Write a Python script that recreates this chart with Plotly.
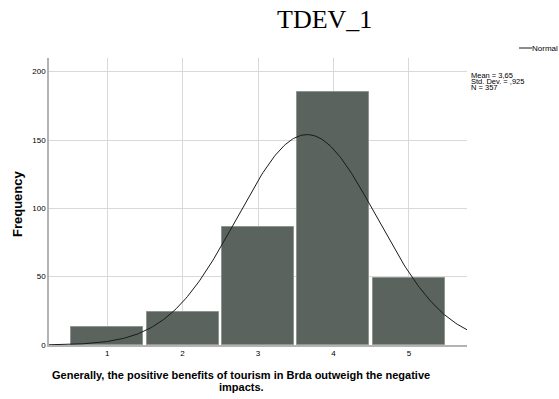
import numpy as np
import plotly.graph_objects as go

# Response categories and their frequencies
categories = [1, 2, 3, 4, 5]
frequencies = [13, 24, 86, 185, 49]
tick_labels = ["1", "2", "3", "4", "5"]

# Summary statistics shown beside the chart
mean_value = 3.65
std_dev = 0.925
n_total = 357
stats_lines = ["Mean = 3,65", "Std. Dev. = ,925", "N = 357"]

W, H = 559, 399
L, R, T, B = 49, 92, 58, 54
plot_w = W - L - R
plot_h = H - T - B

x_range = [0.23, 5.77]
y_range = [0, 210]

# Fitted normal curve scaled to counts (bin width 1)
xs = np.linspace(x_range[0], x_range[1], 300)
ys = n_total / (std_dev * np.sqrt(2 * np.pi)) * np.exp(-0.5 * ((xs - mean_value) / std_dev) ** 2)

fig = go.Figure()
fig.add_trace(go.Bar(
    x=categories, y=frequencies, width=0.955,
    marker=dict(color="#5a635d", line=dict(color="#8e9591", width=1)),
    showlegend=False, hoverinfo="x+y",
))
fig.add_trace(go.Scatter(
    x=xs, y=ys, mode="lines",
    line=dict(color="#1a1a1a", width=1),
    showlegend=False, hoverinfo="skip",
))

def px_x(px):
    return (px - L) / plot_w

def px_y(py):
    return 1 - (py - T) / plot_h

annotations = [
    dict(text="TDEV_1", x=px_x(324), y=px_y(20), xref="paper", yref="paper",
         xanchor="center", yanchor="middle", showarrow=False,
         font=dict(family="Liberation Serif", size=26, color="#000")),
    dict(text="<b>Frequency</b>", x=px_x(17), y=px_y(204), xref="paper", yref="paper",
         xanchor="center", yanchor="middle", textangle=-90, showarrow=False,
         font=dict(family="Liberation Sans", size=13, color="#000")),
    dict(text="<b>Generally, the positive benefits of tourism in Brda outweigh the negative</b>",
         x=px_x(241), y=px_y(375), xref="paper", yref="paper",
         xanchor="center", yanchor="middle", showarrow=False,
         font=dict(family="Liberation Sans", size=11, color="#000")),
    dict(text="<b>impacts.</b>",
         x=px_x(241), y=px_y(387), xref="paper", yref="paper",
         xanchor="center", yanchor="middle", showarrow=False,
         font=dict(family="Liberation Sans", size=11, color="#000")),
    dict(text="Normal", x=px_x(531), y=px_y(48), xref="paper", yref="paper",
         xanchor="left", yanchor="middle", showarrow=False, borderpad=0,
         font=dict(family="Liberation Sans", size=8, color="#000")),
]
for i, line in enumerate(stats_lines):
    annotations.append(dict(
        text=line, x=px_x(470), y=px_y(75.5 + i * 6), xref="paper", yref="paper",
        xanchor="left", yanchor="middle", showarrow=False, borderpad=0,
        font=dict(family="Liberation Sans", size=7.5, color="#000"),
    ))

fig.update_layout(
    width=W, height=H,
    margin=dict(l=L, r=R, t=T, b=B, pad=0),
    paper_bgcolor="white", plot_bgcolor="white",
    bargap=0,
    annotations=annotations,
    shapes=[dict(type="line", xref="paper", yref="paper",
                 x0=px_x(519), x1=px_x(532), y0=px_y(48), y1=px_y(48),
                 line=dict(color="#1a1a1a", width=1))],
    xaxis=dict(
        range=x_range, tickvals=categories, ticktext=tick_labels,
        showgrid=True, gridcolor="#d9d9d9", gridwidth=1,
        showline=True, linecolor="#b3b3b3", linewidth=1.5,
        ticks="", zeroline=False,
        tickfont=dict(family="Liberation Sans", size=8, color="#000"),
    ),
    yaxis=dict(
        range=y_range, tickvals=[0, 50, 100, 150, 200],
        showgrid=True, gridcolor="#d9d9d9", gridwidth=1,
        showline=True, linecolor="#b3b3b3", linewidth=1.5,
        ticks="", zeroline=False,
        tickfont=dict(family="Liberation Sans", size=8, color="#000"),
    ),
)

fig.write_html("out.html")
